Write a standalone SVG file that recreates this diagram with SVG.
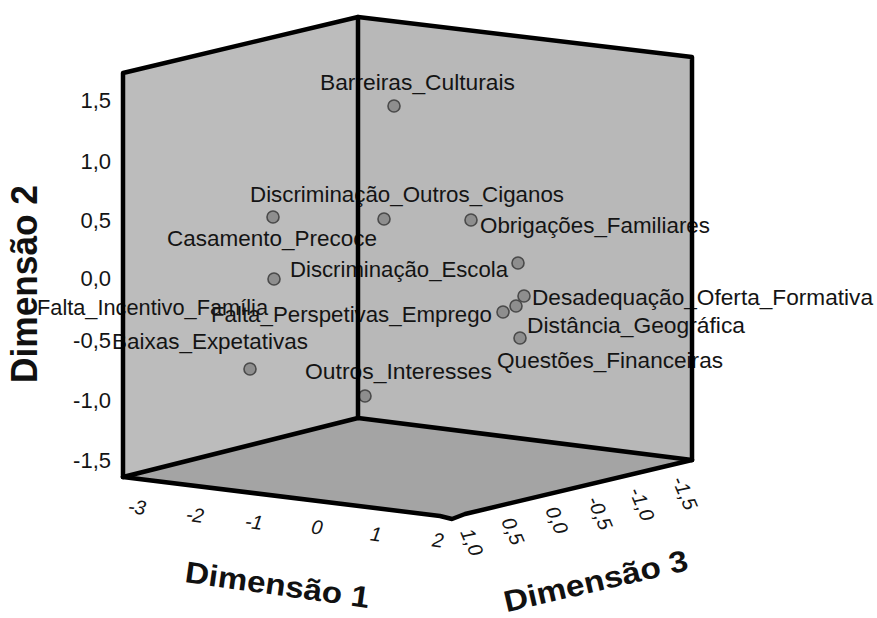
<svg xmlns="http://www.w3.org/2000/svg" width="877" height="618" viewBox="0 0 877 618">
<style>
.lbl{font-family:"Liberation Sans",Arial,sans-serif;font-size:22.5px;fill:#141414}
.tick{font-family:"Liberation Sans",Arial,sans-serif;font-size:22px;fill:#141414}
.tk1{font-family:"Liberation Sans",Arial,sans-serif;font-size:20px;font-style:italic;fill:#141414;text-anchor:middle}
.ttl{font-family:"Liberation Sans",Arial,sans-serif;font-weight:bold;fill:#111;text-anchor:middle}
.pt{fill:#8e8e8e;stroke:#4a4a4a;stroke-width:1.6}
.edge{fill:none;stroke:#000;stroke-width:4.5;stroke-linejoin:round;stroke-linecap:round}
</style>
<rect width="877" height="618" fill="#fff"/>
<g id="walls">
<polygon points="123,73 358,17 358,418 123,477" fill="#bcbcbc"/>
<polygon points="358,17 692,57 692,460 358,418" fill="#b8b8b8"/>
<polygon points="123,477 358,418 692,460 465,514 452,519 440,516" fill="#a4a4a4"/>
</g>
<g id="nodes">
<g id="n-barreiras"><circle class="pt" cx="394" cy="106" r="6"/><text class="lbl" x="320" y="90" textLength="195" lengthAdjust="spacingAndGlyphs">Barreiras_Culturais</text></g>
<g id="n-disc-ciganos"><circle class="pt" cx="384" cy="219" r="6"/><text class="lbl" x="250" y="202" textLength="314" lengthAdjust="spacingAndGlyphs">Discriminação_Outros_Ciganos</text></g>
<g id="n-casamento"><circle class="pt" cx="273" cy="217" r="6"/><text class="lbl" x="167" y="246" textLength="210" lengthAdjust="spacingAndGlyphs">Casamento_Precoce</text></g>
<g id="n-obrigacoes"><circle class="pt" cx="471" cy="220" r="6"/><text class="lbl" x="480" y="233" textLength="230" lengthAdjust="spacingAndGlyphs">Obrigações_Familiares</text></g>
<g id="n-disc-escola"><circle class="pt" cx="274" cy="279" r="6"/><text class="lbl" x="290" y="277" textLength="218" lengthAdjust="spacingAndGlyphs">Discriminação_Escola</text></g>
<g id="n-escola-pt"><circle class="pt" cx="518" cy="263" r="6"/></g>
<g id="n-falta-incentivo"><text class="lbl" x="37" y="315" textLength="231" lengthAdjust="spacingAndGlyphs">Falta_Incentivo_Família</text></g>
<g id="n-falta-perspetivas"><circle class="pt" cx="503" cy="312" r="6"/><text class="lbl" x="211" y="322" textLength="281" lengthAdjust="spacingAndGlyphs">Falta_Perspetivas_Emprego</text></g>
<g id="n-desadequacao"><circle class="pt" cx="516" cy="306" r="6"/><circle class="pt" cx="524" cy="296" r="6"/><text class="lbl" x="532" y="305" textLength="341" lengthAdjust="spacingAndGlyphs">Desadequação_Oferta_Formativa</text></g>
<g id="n-distancia"><circle class="pt" cx="520" cy="338" r="6"/><text class="lbl" x="527" y="333" textLength="218" lengthAdjust="spacingAndGlyphs">Distância_Geográfica</text></g>
<g id="n-baixas"><circle class="pt" cx="250" cy="369" r="6"/><text class="lbl" x="112" y="349" textLength="196" lengthAdjust="spacingAndGlyphs">Baixas_Expetativas</text></g>
<g id="n-questoes"><text class="lbl" x="497" y="368" textLength="226" lengthAdjust="spacingAndGlyphs">Questões_Financeiras</text></g>
<g id="n-outros"><circle class="pt" cx="365" cy="396" r="6"/><text class="lbl" x="305" y="379" textLength="187" lengthAdjust="spacingAndGlyphs">Outros_Interesses</text></g>
</g>
<g id="connectors">
<polyline class="edge" points="123,477 123,73 358,17 692,57 692,460"/>
<line class="edge" x1="358" y1="17" x2="358" y2="418"/>
<polyline class="edge" points="123,477 358,418 692,460"/>
<polyline class="edge" points="123,477 440,516 452,519 465,514 692,460"/>
</g>
<g id="axis-dim2">
<text class="tick" x="111" y="108" text-anchor="end">1,5</text>
<text class="tick" x="111" y="169" text-anchor="end">1,0</text>
<text class="tick" x="111" y="228" text-anchor="end">0,5</text>
<text class="tick" x="111" y="286" text-anchor="end">0,0</text>
<text class="tick" x="111" y="348" text-anchor="end">-0,5</text>
<text class="tick" x="111" y="408" text-anchor="end">-1,0</text>
<text class="tick" x="111" y="468" text-anchor="end">-1,5</text>
<text class="ttl" font-size="37" transform="translate(37,284) rotate(-90)" textLength="198" lengthAdjust="spacingAndGlyphs">Dimensão 2</text>
</g>
<g id="axis-dim1">
<text class="tk1" transform="translate(137,507) rotate(8)" y="7">-3</text>
<text class="tk1" transform="translate(195,515) rotate(8)" y="7">-2</text>
<text class="tk1" transform="translate(254,522) rotate(8)" y="7">-1</text>
<text class="tk1" transform="translate(317,527) rotate(8)" y="7">0</text>
<text class="tk1" transform="translate(376,534) rotate(8)" y="7">1</text>
<text class="tk1" transform="translate(438,540) rotate(8)" y="7">2</text>
<text class="ttl" font-size="30" transform="translate(276,595) rotate(8)" textLength="186" lengthAdjust="spacingAndGlyphs">Dimensão 1</text>
</g>
<g id="axis-dim3">
<text class="tk1" transform="translate(472,542) rotate(67)" y="7">1,0</text>
<text class="tk1" transform="translate(513,531) rotate(67)" y="7">0,5</text>
<text class="tk1" transform="translate(557,520) rotate(67)" y="7">0,0</text>
<text class="tk1" transform="translate(600,513) rotate(67)" y="7">-0,5</text>
<text class="tk1" transform="translate(642,504) rotate(67)" y="7">-1,0</text>
<text class="tk1" transform="translate(685,493) rotate(67)" y="7">-1,5</text>
<text class="ttl" font-size="30" transform="translate(598,591) rotate(-13)" textLength="188" lengthAdjust="spacingAndGlyphs">Dimensão 3</text>
</g>
</svg>
